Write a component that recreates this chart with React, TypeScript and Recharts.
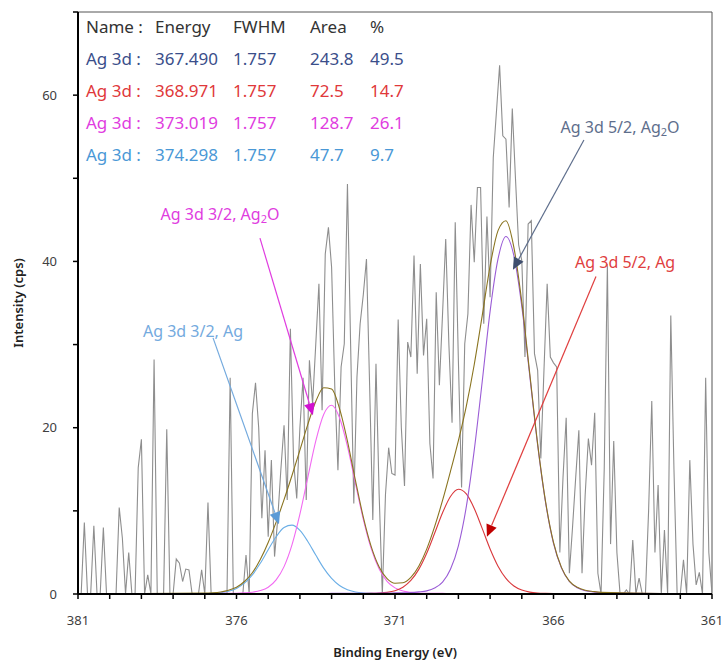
import React from 'react'
import { LineChart, Line, XAxis, YAxis, ReferenceLine, ReferenceDot } from 'recharts'

// raw scan: [binding energy (eV), intensity (cps)]
const rawScan: [number, number][] = [
  [381.0, 0], [380.9, 0], [380.8, 8.6], [380.7, 0], [380.6, 0], [380.5, 8.2], [380.4, 0], [380.3, 0], [380.2, 8.0], [380.1, 0],
  [380.0, 0], [379.9, 0], [379.8, 0], [379.7, 10.4], [379.6, 6.7], [379.5, 0], [379.4, 5.0], [379.3, 0], [379.2, 0], [379.1, 15.2],
  [379.0, 18.6], [378.9, 0], [378.8, 2.3], [378.7, 0], [378.6, 28.2], [378.5, 0], [378.4, 0], [378.3, 0], [378.2, 19.8], [378.1, 0],
  [378.0, 0], [377.9, 4.2], [377.8, 3.7], [377.7, 1.5], [377.6, 3.0], [377.5, 2.9], [377.4, 0], [377.3, 0], [377.2, 0], [377.1, 2.9],
  [377.0, 0], [376.9, 11.0], [376.8, 0], [376.7, 0], [376.6, 0], [376.5, 0], [376.4, 0], [376.3, 0], [376.2, 26.0], [376.1, 0],
  [376.0, 0], [375.9, 0], [375.8, 0], [375.7, 4.7], [375.6, 0], [375.5, 21.7], [375.4, 25.4], [375.3, 20.0], [375.2, 9.1], [375.1, 17.3],
  [375.0, 6.9], [374.9, 16.1], [374.8, 4.5], [374.7, 9.0], [374.6, 15.0], [374.5, 20.3], [374.4, 11.3], [374.3, 31.9], [374.2, 16.0], [374.1, 11.5],
  [374.0, 20.0], [373.9, 26.0], [373.8, 11.3], [373.7, 28.1], [373.6, 22.9], [373.5, 30.0], [373.4, 37.3], [373.3, 22.1], [373.2, 40.9], [373.1, 44.1],
  [373.0, 39.3], [372.9, 25.0], [372.8, 14.9], [372.7, 27.3], [372.6, 30.1], [372.5, 49.3], [372.4, 30.0], [372.3, 10.9], [372.2, 26.1], [372.1, 32.5],
  [372.0, 36.0], [371.9, 40.3], [371.8, 25.0], [371.7, 8.9], [371.6, 27.7], [371.5, 12.0], [371.4, 0], [371.3, 12.0], [371.2, 17.6], [371.1, 14.5],
  [371.0, 14.3], [370.9, 33.0], [370.8, 20.0], [370.7, 13.0], [370.6, 30.3], [370.5, 28.5], [370.4, 40.7], [370.3, 26.5], [370.2, 39.7], [370.1, 28.7],
  [370.0, 33.1], [369.9, 18.1], [369.8, 13.9], [369.7, 36.3], [369.6, 25.1], [369.5, 33.7], [369.4, 42.7], [369.3, 30.0], [369.2, 20.6], [369.1, 44.7],
  [369.0, 28.0], [368.9, 12.8], [368.8, 30.1], [368.7, 33.7], [368.6, 46.8], [368.5, 39.9], [368.4, 48.9], [368.3, 48.9], [368.2, 32.5], [368.1, 45.4],
  [368.0, 35.7], [367.9, 52.5], [367.8, 58.0], [367.7, 63.6], [367.6, 55.1], [367.5, 54.7], [367.4, 46.5], [367.3, 58.4], [367.2, 50.0], [367.1, 42.0],
  [367.0, 40.1], [366.9, 28.5], [366.8, 44.5], [366.7, 44.9], [366.6, 28.9], [366.5, 26.9], [366.4, 16.3], [366.3, 27.0], [366.2, 37.3], [366.1, 28.5],
  [366.0, 27.8], [365.9, 27.3], [365.8, 5.0], [365.7, 14.0], [365.6, 21.2], [365.5, 2.5], [365.4, 8.0], [365.3, 14.0], [365.2, 19.7], [365.1, 2.5],
  [365.0, 12.0], [364.9, 18.7], [364.8, 15.5], [364.7, 21.8], [364.6, 2.5], [364.5, 0], [364.4, 15.0], [364.3, 39.7], [364.2, 6.0], [364.1, 18.4],
  [364.0, 5.0], [363.9, 0], [363.8, 0], [363.7, 0.5], [363.6, 0], [363.5, 6.5], [363.4, 0], [363.3, 1.9], [363.2, 0], [363.1, 0],
  [363.0, 10.0], [362.9, 23.2], [362.8, 5.0], [362.7, 13.1], [362.6, 0], [362.5, 7.7], [362.4, 0], [362.3, 33.5], [362.2, 15.0], [362.1, 0],
  [362.0, 0], [361.9, 4.1], [361.8, 0], [361.7, 16.1], [361.6, 6.0], [361.5, 1.1], [361.4, 2.6], [361.3, 0], [361.2, 26.0], [361.1, 5.0],
  [361.0, 0],
]

// fitted components
const fitEnergy = [
  381, 377, 376.75, 376.5, 376.25, 376, 375.75, 375.5, 375.25, 375, 374.75, 374.5, 374.25, 374, 373.75, 373.5, 373.25, 373,
  372.75, 372.5, 372.25, 372, 371.75, 371.5, 371.25, 371, 370.75, 370.5, 370.25, 370, 369.75, 369.5, 369.25, 369,
  368.75, 368.5, 368.25, 368, 367.75, 367.5, 367.25, 367, 366.75, 366.5, 366.25, 366, 365.75, 365.5, 365.25, 365,
  364.75, 364.5, 361,
]
const fitAg32 = [
  0, 0.05, 0.08, 0.16, 0.33, 0.67, 1.3, 2.29, 3.69, 5.32, 6.88, 7.99, 8.28, 7.65, 6.32, 4.68, 3.11, 1.87,
  1.02, 0.51, 0.25, 0.12, 0.07, 0.04, 0.03, 0.03, 0.02, 0.02, 0.02, 0.01, 0.01, 0.01, 0.01, 0.01,
  0, 0, 0, 0, 0, 0, 0, 0, 0, 0, 0, 0, 0, 0, 0, 0,
  0, 0, 0,
]
const fitAgO32 = [
  0, 0.05, 0.06, 0.07, 0.08, 0.09, 0.14, 0.22, 0.41, 0.82, 1.7, 3.29, 5.9, 9.6, 14.03, 18.39, 21.59, 22.7,
  21.2, 17.77, 13.32, 8.99, 5.45, 3.0, 1.52, 0.74, 0.36, 0.2, 0.12, 0.09, 0.08, 0.07, 0.06, 0.05,
  0.05, 0.04, 0.04, 0.03, 0.03, 0.03, 0.03, 0.02, 0.02, 0.02, 0.02, 0.02, 0.02, 0.01, 0.01, 0.01,
  0.01, 0.01, 0,
]
const fitAg52 = [
  0, 0, 0, 0, 0, 0, 0, 0.01, 0.01, 0.01, 0.01, 0.01, 0.02, 0.02, 0.02, 0.02, 0.03, 0.03,
  0.03, 0.04, 0.04, 0.05, 0.07, 0.11, 0.2, 0.4, 0.82, 1.63, 2.96, 4.9, 7.3, 9.77, 11.72, 12.59,
  12.03, 10.28, 7.89, 5.42, 3.35, 1.88, 0.97, 0.48, 0.23, 0.12, 0.08, 0.06, 0.05, 0.04, 0.03, 0.03,
  0.02, 0.02, 0,
]
const fitAgO52 = [
  0, 0.02, 0.02, 0.02, 0.02, 0.03, 0.03, 0.03, 0.03, 0.04, 0.04, 0.04, 0.05, 0.05, 0.05, 0.06, 0.06, 0.07,
  0.07, 0.07, 0.07, 0.08, 0.09, 0.1, 0.1, 0.13, 0.15, 0.17, 0.25, 0.38, 0.71, 1.42, 2.97, 5.8,
  10.5, 17.3, 25.5, 34.0, 40.3, 43.0, 40.7, 34.6, 26.3, 17.9, 11.0, 6.1, 3.14, 1.5, 0.75, 0.4,
  0.25, 0.17, 0,
]
const fitEnvelope = [
  0, 0.1, 0.15, 0.25, 0.45, 0.8, 1.5, 2.55, 4.15, 6.2, 8.65, 11.35, 14.25, 17.3, 20.4, 23.15, 24.8, 24.65,
  22.3, 18.4, 13.7, 9.25, 5.7, 3.25, 1.85, 1.3, 1.35, 2.0, 3.35, 5.4, 8.1, 11.25, 14.75, 18.45,
  22.6, 27.6, 33.45, 39.45, 43.7, 44.9, 41.7, 35.1, 26.55, 18.05, 11.1, 6.2, 3.2, 1.55, 0.8, 0.45,
  0.3, 0.2, 0,
]

const xTicks = [381, 380, 379, 378, 377, 376, 375, 374, 373, 372, 371, 370, 369, 368, 367, 366, 365, 364, 363, 362, 361]
const xLabels = [381, 376, 371, 366, 361]
const yTicks = [0, 10, 20, 30, 40, 50, 60, 70]
const yLabels = [0, 20, 40, 60]

// fit report table
const tableHeader = ['Name :', 'Energy', 'FWHM', 'Area', '%']
const peakNames = ['Ag 3d :', 'Ag 3d :', 'Ag 3d :', 'Ag 3d :']
const peakEnergy = ['367.490', '368.971', '373.019', '374.298']
const peakFwhm = ['1.757', '1.757', '1.757', '1.757']
const peakArea = ['243.8', '72.5', '128.7', '47.7']
const peakPercent = ['49.5', '14.7', '26.1', '9.7']

const NAVY = '#3a4e8a'
const RED = '#e0383a'
const MAGENTA = '#e03ce0'
const SKY = '#4a98d6'
const rowColors = [NAVY, RED, MAGENTA, SKY]
const colX = [86, 155, 233, 310, 370]
const rowY = [27, 59, 91, 123, 155]

// peak callouts, in data coordinates
const callouts = [
  { text: 'Ag 3d 3/2, Ag', sub: '2', tail: 'O', label: [376.52, 45.7], from: [375.26, 42.8], to: [373.59, 21.5], color: MAGENTA, head: '#d010d0' },
  { text: 'Ag 3d 3/2, Ag', sub: '', tail: '', label: [377.37, 31.6], from: [376.74, 30.8], to: [374.66, 8.4], color: '#74aade', head: '#5a9ad6' },
  { text: 'Ag 3d 5/2, Ag', sub: '2', tail: 'O', label: [363.9, 56.2], from: [365.04, 54.6], to: [367.28, 39.0], color: '#5e6e8c', head: '#3e4e6e' },
  { text: 'Ag 3d 5/2, Ag', sub: '', tail: '', label: [363.74, 39.9], from: [364.66, 38.2], to: [368.1, 6.9], color: '#e04040', head: '#c00000' },
]

const FONT = '"Noto Sans", sans-serif'

function XTick({ x, y, payload }: any) {
  if (!xLabels.includes(payload.value)) return <g />
  return (
    <text x={x} y={y} dy="0.71em" textAnchor="middle" fontSize={13} fill="#404040" fontFamily={FONT}>
      {payload.value}
    </text>
  )
}

function YTick({ x, y, payload }: any) {
  if (!yLabels.includes(payload.value)) return <g />
  return (
    <text x={x} y={y} dy="0.35em" textAnchor="end" fontSize={13} fill="#404040" fontFamily={FONT}>
      {payload.value}
    </text>
  )
}

const arrow = (color: string, head: string) => (p: any) => {
  const { x1, y1, x2, y2 } = p
  const a = Math.atan2(y2 - y1, x2 - x1)
  const len = 12
  const w = 5.5
  const bx = x2 - len * Math.cos(a)
  const by = y2 - len * Math.sin(a)
  const px = -Math.sin(a) * w
  const py = Math.cos(a) * w
  return (
    <g>
      <line x1={x1} y1={y1} x2={bx} y2={by} stroke={color} strokeWidth={1.2} />
      <polygon points={`${x2},${y2} ${bx + px},${by + py} ${bx - px},${by - py}`} fill={head} />
    </g>
  )
}

const calloutText = (c: any) => (p: any) => (
  <text x={p.cx} y={p.cy} textAnchor="middle" dominantBaseline="central" fontSize={16} fill={c.color} fontFamily={FONT}>
    <tspan>{c.text}</tspan>
    {c.sub && <tspan dy={4} fontSize={11}>{c.sub}</tspan>}
    {c.tail && <tspan dy={-4}>{c.tail}</tspan>}
  </text>
)

export default function App() {
  const raw = rawScan.map(([e, v]) => ({ e, v }))
  const series = (vals: number[]) => fitEnergy.map((e, i) => ({ e, v: vals[i] }))

  return (
    <div style={{ position: 'absolute', left: 0, top: 0, width: 724, height: 666, background: '#fff', fontFamily: FONT }}>
      <LineChart width={724} height={666} margin={{ top: 12, right: 12, bottom: 0, left: 0 }}>
        <XAxis
          dataKey="e"
          type="number"
          domain={[361, 381]}
          reversed
          allowDataOverflow
          ticks={xTicks}
          interval={0}
          tick={<XTick />}
          tickSize={5}
          tickMargin={17}
          height={72}
          axisLine={{ stroke: '#000', strokeWidth: 2 }}
          tickLine={{ stroke: '#000', strokeWidth: 1.5 }}
          label={() => (
            <text x={395} y={652} textAnchor="middle" dominantBaseline="central" fontSize={13} fontWeight={600} fill="#222" fontFamily={FONT}>
              Binding Energy (eV)
            </text>
          )}
        />
        <YAxis
          type="number"
          domain={[0, 70]}
          allowDataOverflow
          ticks={yTicks}
          interval={0}
          tick={<YTick />}
          tickSize={5}
          tickMargin={16}
          width={78}
          axisLine={{ stroke: '#000', strokeWidth: 2 }}
          tickLine={{ stroke: '#000', strokeWidth: 1.5 }}
          label={() => (
            <text x={18} y={303} transform="rotate(-90 18 303)" textAnchor="middle" dominantBaseline="central" fontSize={13} fontWeight={600} fill="#222" fontFamily={FONT}>
              Intensity (cps)
            </text>
          )}
        />
        <ReferenceLine y={70} stroke="#555" strokeWidth={1} />
        <ReferenceLine x={361} stroke="#555" strokeWidth={1} />

        <Line data={raw} dataKey="v" type="linear" stroke="#8e8e8e" strokeWidth={1.1} dot={false} isAnimationActive={false} />
        <Line data={series(fitAg32)} dataKey="v" type="monotone" stroke="#6aaee6" strokeWidth={1.1} dot={false} isAnimationActive={false} />
        <Line data={series(fitAgO32)} dataKey="v" type="monotone" stroke="#f26af2" strokeWidth={1.1} dot={false} isAnimationActive={false} />
        <Line data={series(fitAg52)} dataKey="v" type="monotone" stroke="#d9383c" strokeWidth={1.1} dot={false} isAnimationActive={false} />
        <Line data={series(fitAgO52)} dataKey="v" type="monotone" stroke="#9a5cd6" strokeWidth={1.1} dot={false} isAnimationActive={false} />
        <Line data={series(fitEnvelope)} dataKey="v" type="monotone" stroke="#8a7420" strokeWidth={1.1} dot={false} isAnimationActive={false} />

        {callouts.map((c, i) => (
          <ReferenceLine
            key={'a' + i}
            segment={[{ x: c.from[0], y: c.from[1] }, { x: c.to[0], y: c.to[1] }]}
            shape={arrow(c.color, c.head)}
          />
        ))}
        {callouts.map((c, i) => (
          <ReferenceDot key={'t' + i} x={c.label[0]} y={c.label[1]} r={0} shape={calloutText(c)} />
        ))}
      </LineChart>

      {tableHeader.map((h, j) => (
        <span key={'h' + j} style={{ position: 'absolute', left: colX[j], top: rowY[0] - 11, fontSize: 17, lineHeight: '22px', color: '#333', whiteSpace: 'nowrap' }}>
          {h}
        </span>
      ))}
      {peakNames.map((n, i) =>
        [n, peakEnergy[i], peakFwhm[i], peakArea[i], peakPercent[i]].map((t, j) => (
          <span
            key={`r${i}c${j}`}
            style={{ position: 'absolute', left: colX[j], top: rowY[i + 1] - 11, fontSize: 17, lineHeight: '22px', color: rowColors[i], whiteSpace: 'nowrap' }}
          >
            {t}
          </span>
        ))
      )}
    </div>
  )
}
